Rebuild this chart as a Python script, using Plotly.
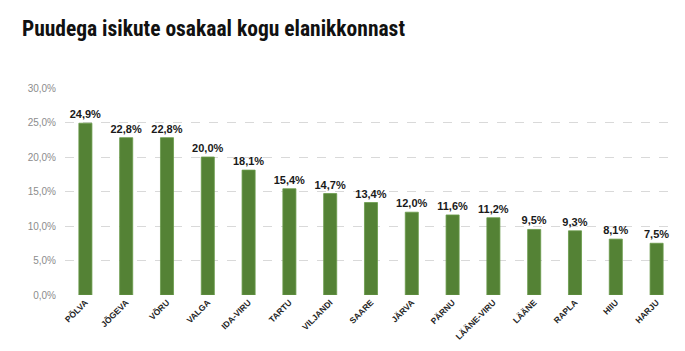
import plotly.graph_objects as go

categories = ["PÕLVA", "JÕGEVA", "VÕRU", "VALGA", "IDA-VIRU", "TARTU", "VILJANDI",
              "SAARE", "JÄRVA", "PÄRNU", "LÄÄNE-VIRU", "LÄÄNE", "RAPLA", "HIIU", "HARJU"]
values = [24.9, 22.8, 22.8, 20.0, 18.1, 15.4, 14.7, 13.4, 12.0, 11.6, 11.2, 9.5, 9.3, 8.1, 7.5]
y_ticks = [0, 5, 10, 15, 20, 25, 30]
y_tick_labels = ["0,0%", "5,0%", "10,0%", "15,0%", "20,0%", "25,0%", "30,0%"]
title_text = "Puudega isikute osakaal kogu elanikkonnast"

fig = go.Figure(go.Bar(
    x=categories, y=values,
    marker=dict(color="#548235", line=dict(color="#6a9a4a", width=0.8)),
    texttemplate="%{y:.1f}%", textposition="outside", cliponaxis=False,
    constraintext="none",
    textfont=dict(family="Liberation Sans, Arial", size=11, color="#1a1a1a", weight="bold"),
))

fig.update_layout(
    width=685, height=351,
    margin=dict(l=65, r=8, t=88, b=56),
    paper_bgcolor="white", plot_bgcolor="white",
    separators=", ",
    bargap=0.68,
    showlegend=False,
    title=dict(text=title_text, x=0.032, xanchor="left", y=0.92, yanchor="middle",
               font=dict(family="Liberation Sans Narrow, Roboto Condensed, DejaVu Sans Condensed, sans-serif",
                         size=21.5, color="#111111", weight="bold")),
    xaxis=dict(tickangle=-45, tickfont=dict(family="Liberation Sans, Arial", size=8.5, color="#262626", weight="bold"),
               showline=False, ticks="", showgrid=False),
    yaxis=dict(range=[0, 30], tickvals=y_ticks, ticktext=y_tick_labels,
               tickfont=dict(family="Liberation Sans, Arial", size=10, color="#8c8c8c"),
               showgrid=True, gridcolor="#d9d9d9", griddash="dash", gridwidth=1,
               zeroline=False, showline=False, ticks="", ticklabelstandoff=8),
)

fig.write_html("out.html")
